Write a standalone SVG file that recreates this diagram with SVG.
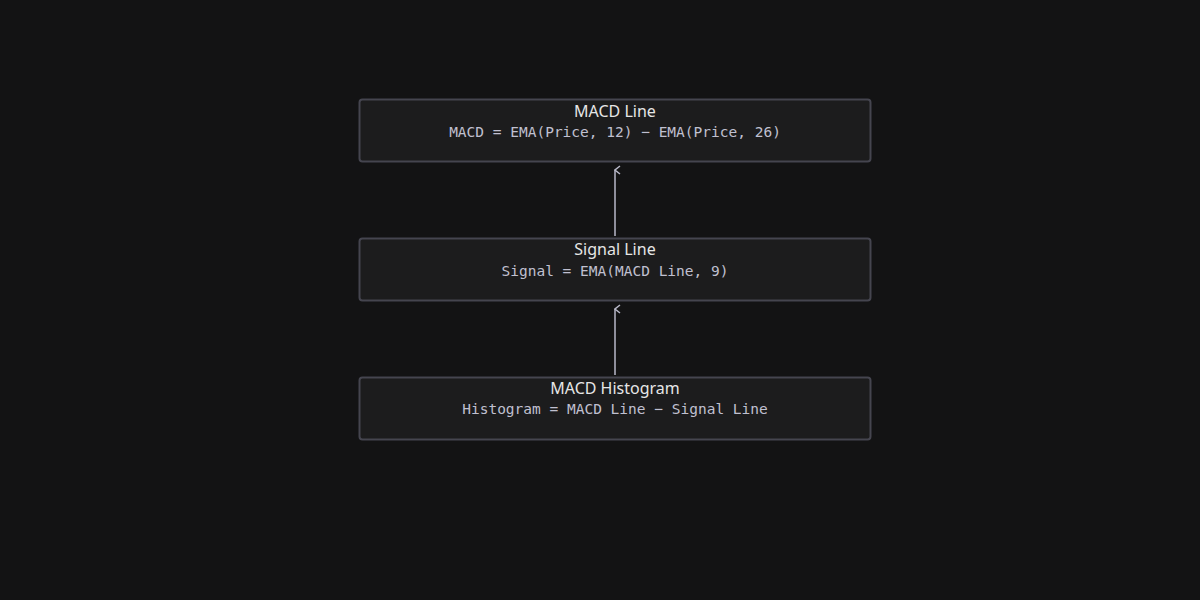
<svg xmlns="http://www.w3.org/2000/svg" width="1200" height="600" viewBox="0 0 1200 600">
<style>
.box{fill:#1c1c1d;stroke:#45454f;stroke-width:2}
.t{font-family:"Noto Sans","DejaVu Sans",sans-serif;font-size:16px;fill:#e6e6e6;text-anchor:middle}
.f{font-family:"DejaVu Sans Mono","Liberation Mono",monospace;font-size:14.5px;fill:#c0c0d0;text-anchor:middle}
.c{stroke:#b8b8c8;stroke-width:1.5;fill:none}
</style>
<defs><marker id="a" markerWidth="10" markerHeight="10" refX="5" refY="1" orient="auto-start-reverse" markerUnits="userSpaceOnUse" viewBox="0 0 10 10"><path d="M1 6L5 1L9 6" fill="none" stroke="#b8b8c8" stroke-width="1.5"/></marker></defs>
<rect width="1200" height="600" fill="#131314"/>
<g id="connectors">
<path class="c" d="M615 236V170" marker-end="url(#a)"/>
<path class="c" d="M615 375V309" marker-end="url(#a)"/>
</g>
<g id="macd"><rect class="box" x="359.5" y="99.5" width="511" height="62" rx="3"/><text class="t" x="615" y="117">MACD Line</text><text class="f" x="615" y="137">MACD = EMA(Price, 12) − EMA(Price, 26)</text></g>
<g id="signal"><rect class="box" x="359.5" y="238.5" width="511" height="62" rx="3"/><text class="t" x="615" y="255">Signal Line</text><text class="f" x="615" y="276">Signal = EMA(MACD Line, 9)</text></g>
<g id="hist"><rect class="box" x="359.5" y="377.5" width="511" height="62" rx="3"/><text class="t" x="615" y="394">MACD Histogram</text><text class="f" x="615" y="414">Histogram = MACD Line − Signal Line</text></g>
</svg>
